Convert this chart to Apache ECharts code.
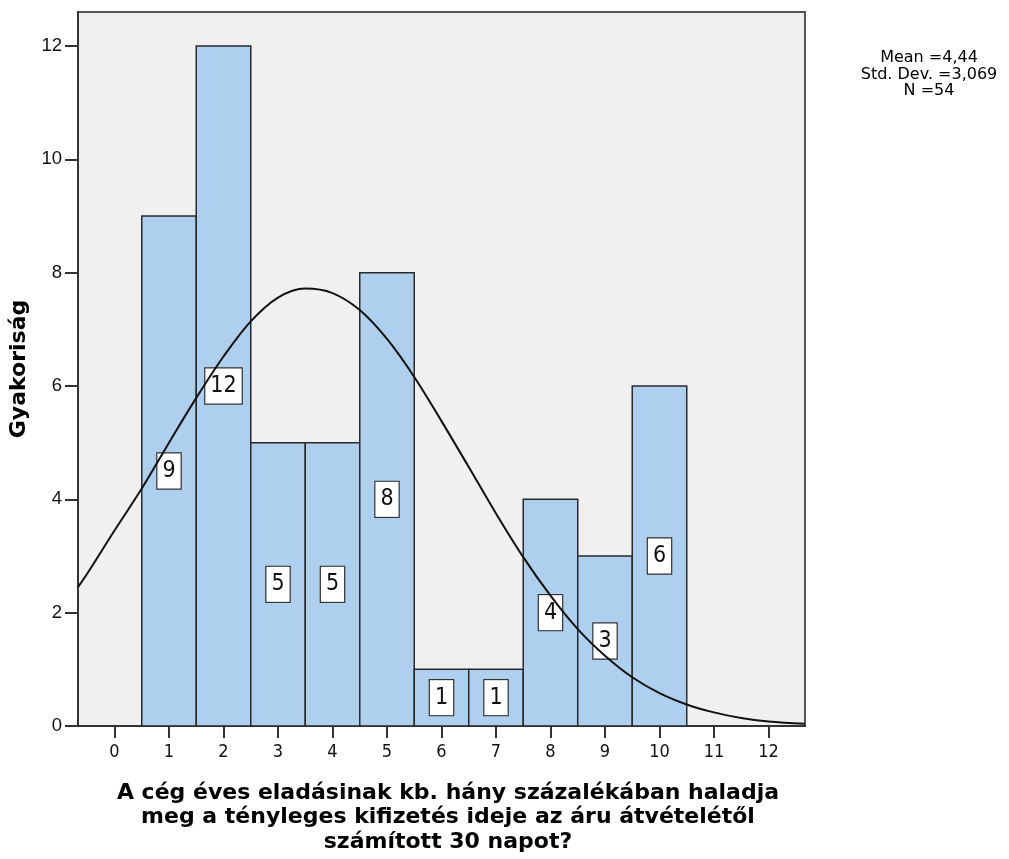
<!DOCTYPE html>
<html>
<head>
<meta charset="utf-8">
<script src="https://cdn.jsdelivr.net/npm/echarts@6/dist/echarts.min.js"></script>
<style>html,body{margin:0;padding:0;background:#fff;}#chart{width:1009px;height:859px;}</style>
</head>
<body>
<div id="chart"></div>
<script>
// Histogram bins (bin centers) and frequencies
const binCenters = [1, 2, 3, 4, 5, 6, 7, 8, 9, 10];
const frequencies = [9, 12, 5, 5, 8, 1, 1, 4, 3, 6];
// Normal curve, points
const curveX = [-0.67, -0.5, 0, 0.5, 1, 1.5, 2, 2.5, 3, 3.5, 4, 4.5, 5, 5.5, 6, 6.5, 7, 7.5, 8, 8.5, 9, 9.5, 10, 10.5, 11, 11.5, 12, 12.67];
const curveY = [2.45, 2.69, 3.45, 4.19, 5.0, 5.79, 6.52, 7.14, 7.56, 7.72, 7.64, 7.34, 6.83, 6.16, 5.38, 4.57, 3.75, 2.98, 2.30, 1.71, 1.24, 0.86, 0.58, 0.38, 0.24, 0.14, 0.08, 0.04];
// Tick labels
const xTicks = [0, 1, 2, 3, 4, 5, 6, 7, 8, 9, 10, 11, 12];
const yTicks = [0, 2, 4, 6, 8, 10, 12];
const xTitle = 'A cég éves eladásinak kb. hány százalékában haladja\nmeg a tényleges kifizetés ideje az áru átvételétől\nszámított 30 napot?';
const yTitle = 'Gyakoriság';
const statsText = 'Mean =4,44\nStd. Dev. =3,069\nN =54';

const chart = echarts.init(document.getElementById('chart'));
const barData = binCenters.map((c, i) => [c, frequencies[i]]);
const curveData = curveX.map((x, i) => [x, curveY[i]]);
const narrow = 'Liberation Sans Narrow, DejaVu Sans Condensed, Liberation Sans, sans-serif';

chart.setOption({
  animation: false,
  backgroundColor: '#ffffff',
  textStyle: { fontFamily: 'Liberation Sans, Arial, sans-serif' },
  grid: {
    left: 78, right: 204, top: 12, bottom: 133,
    show: true, backgroundColor: '#f0f0f0', borderColor: '#555', borderWidth: 2
  },
  xAxis: {
    type: 'value', min: -0.67, max: 12.67,
    splitLine: { show: false },
    axisLine: { show: true, lineStyle: { color: '#333', width: 2 } },
    axisTick: { show: true, length: 12, customValues: xTicks, lineStyle: { color: '#333', width: 2 } },
    axisLabel: { customValues: xTicks, color: '#111', fontSize: 18, margin: 17, fontFamily: narrow }
  },
  yAxis: {
    type: 'value', min: 0, max: 12.6,
    name: yTitle, nameLocation: 'middle', nameRotate: 90, nameGap: 42,
    nameTextStyle: { fontWeight: 'bold', fontSize: 22, color: '#000', fontFamily: 'DejaVu Sans, sans-serif' },
    splitLine: { show: false },
    axisLine: { show: true, onZero: false, lineStyle: { color: '#333', width: 2 } },
    axisTick: { show: true, length: 13, customValues: yTicks, lineStyle: { color: '#333', width: 2 } },
    axisLabel: { customValues: yTicks, color: '#111', fontSize: 18.5, margin: 16 }
  },
  graphic: [
    { type: 'text', x: 448, y: 781, style: { text: xTitle, fill: '#000', font: 'bold 22px DejaVu Sans, sans-serif', lineHeight: 24.5, align: 'center', verticalAlign: 'top' } },
    { type: 'text', x: 929, y: 50, style: { text: statsText, fill: '#000', font: '16px DejaVu Sans, sans-serif', lineHeight: 16.5, align: 'center', verticalAlign: 'top' } }
  ],
  series: [
    {
      type: 'custom',
      data: barData,
      z: 2,
      renderItem: function (params, api) {
        const c = api.value(0), v = api.value(1);
        const p0 = api.coord([c - 0.5, v]);
        const p1 = api.coord([c + 0.5, 0]);
        const mid = api.coord([c, v / 2]);
        return {
          type: 'group',
          children: [
            { type: 'rect', shape: { x: p0[0], y: p0[1], width: p1[0] - p0[0], height: p1[1] - p0[1] },
              style: { fill: '#aed0ee', stroke: '#2a2a2a', lineWidth: 1.5 } },
            { type: 'text', x: mid[0], y: mid[1], z2: 10,
              style: { text: String(v), fill: '#111', align: 'center', verticalAlign: 'middle',
                font: '23px ' + narrow,
                backgroundColor: '#ffffff', borderColor: '#333', borderWidth: 1.2, padding: [6, 5, 6, 5], lineHeight: 23 } }
          ]
        };
      }
    },
    {
      type: 'line', data: curveData, smooth: 0.35, showSymbol: false, z: 3,
      lineStyle: { color: '#111', width: 2 }
    }
  ]
});
</script>
</body>
</html>
